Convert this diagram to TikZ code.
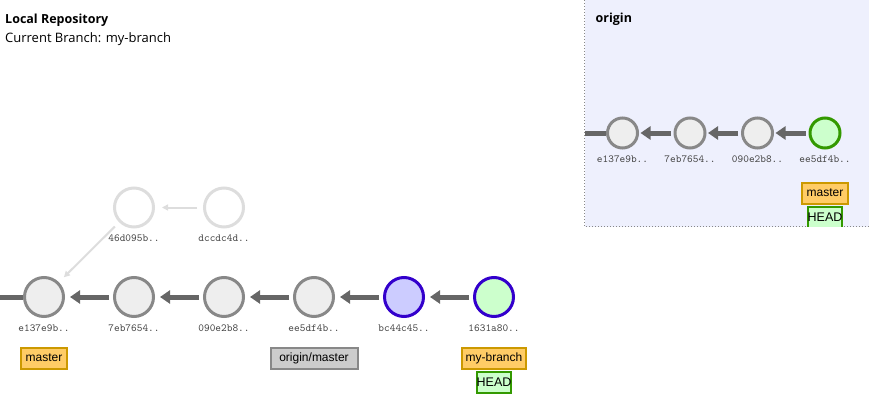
\documentclass[tikz,border=0pt]{standalone}
\usepackage{fontspec}
\setmainfont{Open Sans}
\newfontfamily\lblfont{Liberation Sans}
\usetikzlibrary{arrows.meta}
\definecolor{cgray}{HTML}{888888}
\definecolor{cfill}{HTML}{EEEEEE}
\definecolor{agray}{HTML}{666666}
\definecolor{ghost}{HTML}{DDDDDD}
\definecolor{cblue}{HTML}{3300CC}
\definecolor{bluefill}{HTML}{CCCCFF}
\definecolor{greenfill}{HTML}{CCFFCC}
\definecolor{cgreen}{HTML}{339900}
\definecolor{gold}{HTML}{CC9900}
\definecolor{goldfill}{HTML}{FFCC66}
\definecolor{remfill}{HTML}{CCCCCC}
\definecolor{originbg}{HTML}{EEF0FD}
\definecolor{hashcol}{HTML}{444444}
\begin{document}
\begin{tikzpicture}[x=1pt,y=-1pt,
  commit/.style={circle,draw=cgray,fill=cfill,line width=3pt,minimum size=39pt,inner sep=0pt},
  ocommit/.style={circle,draw=cgray,fill=cfill,line width=3pt,minimum size=30pt,inner sep=0pt},
  ghostc/.style={circle,draw=ghost,fill=white,line width=3pt,minimum size=39pt,inner sep=0pt},
  hash/.style={font=\ttfamily\fontsize{10.8}{11}\selectfont,text=hashcol,inner sep=0pt},
  lbl/.style={line width=2pt,font=\lblfont\fontsize{12}{13}\selectfont,inner xsep=0pt,minimum height=21pt,inner ysep=0pt,text=black},
  branch/.style={lbl,draw=gold,fill=goldfill},
  remote/.style={lbl,draw=cgray,fill=remfill},
  headbox/.style={lbl,draw=cgreen,fill=greenfill,font=\lblfont\fontsize{12.5}{13}\selectfont},
  parent/.style={draw=agray,line width=5pt,-{Triangle[length=10pt,width=13pt]},shorten >=5pt,shorten <=4pt},
  oparent/.style={draw=agray,line width=5pt,-{Triangle[length=10pt,width=13pt]},shorten >=1.5pt,shorten <=3pt},
  ghostarrow/.style={draw=ghost,line width=2pt,-{Triangle[length=6pt,width=6pt]},shorten >=7pt,shorten <=6pt},
  stub/.style={draw=agray,line width=5pt}]
\useasboundingbox (0,0) rectangle (869,401);
% origin panel
\fill[originbg] (584.5,0) rectangle (869,226.5);
\draw[cgray,dotted,line width=1pt] (584.5,0) -- (584.5,226.5) -- (869,226.5);
\node[anchor=base west,font=\bfseries\fontsize{12.5}{14}\selectfont,inner sep=0pt] (otitle) at (595.5,23) {origin};
% titles
\node[anchor=base west,font=\bfseries\fontsize{12.5}{15}\selectfont,inner sep=0pt] (ltitle) at (5,23.5) {Local Repository};
\node[anchor=base west,font=\fontsize{13}{15}\selectfont,inner sep=0pt] (lbranch) at (5,42.3) {Current Branch: my-branch};
% local commits
\coordinate (lstub) at (0,297);
\node[commit] (c1) at (44,297) {};
\node[commit] (c2) at (134,297) {};
\node[commit] (c3) at (224,297) {};
\node[commit] (c4) at (314,297) {};
\node[commit,draw=cblue,fill=bluefill] (c5) at (404,297) {};
\node[commit,draw=cblue,fill=greenfill] (c6) at (494,297) {};
\node[ghostc] (g1) at (134,207.5) {};
\node[ghostc] (g2) at (224,207.5) {};
\draw[stub] (lstub) -- (c1.west);
\draw[parent] (c2) -- (c1);
\draw[parent] (c3) -- (c2);
\draw[parent] (c4) -- (c3);
\draw[parent] (c5) -- (c4);
\draw[parent] (c6) -- (c5);
\draw[ghostarrow] (g2) -- (g1);
\draw[ghostarrow] (g1) -- (c1);
\node[hash] (h1) at (44,328) {e137e9b..};
\node[hash] (h2) at (134,328) {7eb7654..};
\node[hash] (h3) at (224,328) {090e2b8..};
\node[hash] (h4) at (314,328) {ee5df4b..};
\node[hash] (h5) at (404,328) {bc44c45..};
\node[hash] (h6) at (494,328) {1631a80..};
\node[hash] (hg1) at (134,238.5) {46d095b..};
\node[hash] (hg2) at (224,238.5) {dccdc4d..};
\node[branch,minimum width=45.5pt] (bmaster) at (44,358) {master};
\node[remote,minimum width=87pt] (borigin) at (314,358) {origin/master};
\node[branch,minimum width=63.5pt] (bmy) at (494,358) {my-branch};
\node[headbox,minimum width=33.5pt] (bhead) at (494,382.5) {HEAD};
% origin commits
\coordinate (ostub) at (585,133);
\node[ocommit] (o1) at (622.5,133) {};
\node[ocommit] (o2) at (690,133) {};
\node[ocommit] (o3) at (757.5,133) {};
\node[ocommit,draw=cgreen,fill=greenfill] (o4) at (825,133) {};
\draw[stub] (ostub) -- (o1.west);
\draw[oparent] (o2) -- (o1);
\draw[oparent] (o3) -- (o2);
\draw[oparent] (o4) -- (o3);
\node[hash] (oh1) at (622.5,159) {e137e9b..};
\node[hash] (oh2) at (690,159) {7eb7654..};
\node[hash] (oh3) at (757.5,159) {090e2b8..};
\node[hash] (oh4) at (825,159) {ee5df4b..};
\node[branch,minimum width=45.5pt] (omaster) at (825,193) {master};
\begin{scope}
\clip (584.5,0) rectangle (869,226);
\node[headbox,minimum width=33.5pt] (ohead) at (825,217.5) {HEAD};
\end{scope}
\end{tikzpicture}
\end{document}
